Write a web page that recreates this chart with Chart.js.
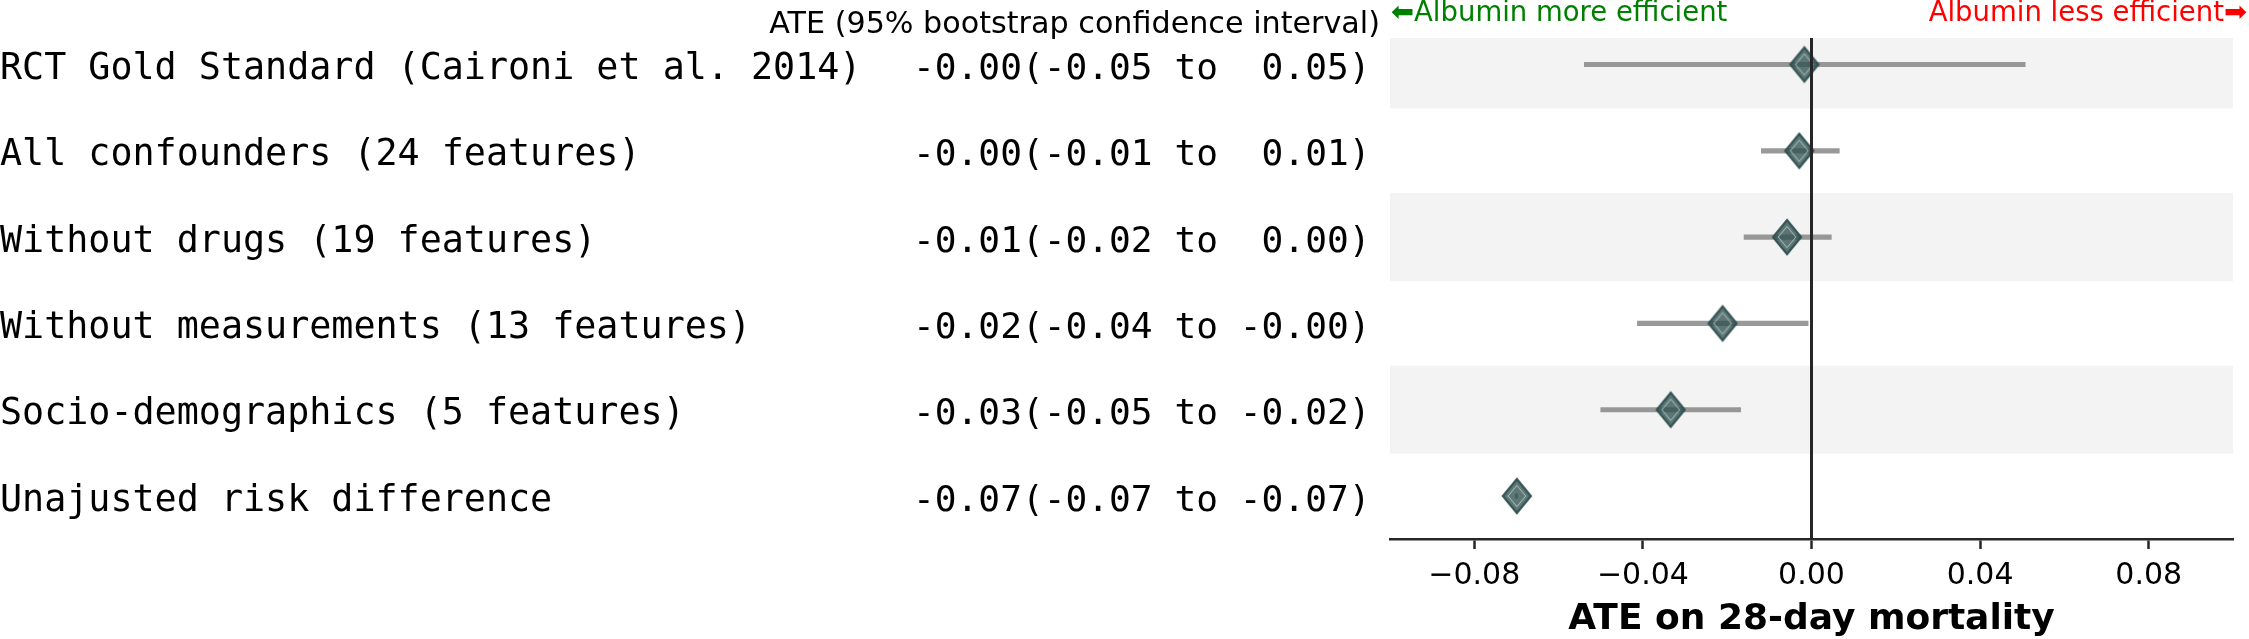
<!DOCTYPE html>
<html><head><meta charset="utf-8">
<script src="https://cdn.jsdelivr.net/npm/chart.js@4/dist/chart.umd.min.js"></script>
<style>html,body{margin:0;padding:0;background:#fff;overflow:hidden}</style>
</head><body>
<canvas id="c" width="2249" height="639" style="display:block;width:2249px;height:639px"></canvas>
<script>
// ---- data ----
const categories = [
  'RCT Gold Standard (Caironi et al. 2014)',
  'All confounders (24 features)',
  'Without drugs (19 features)',
  'Without measurements (13 features)',
  'Socio-demographics (5 features)',
  'Unajusted risk difference'
];
const ciText = [
  '-0.00(-0.05 to  0.05)',
  '-0.00(-0.01 to  0.01)',
  '-0.01(-0.02 to  0.00)',
  '-0.02(-0.04 to -0.00)',
  '-0.03(-0.05 to -0.02)',
  '-0.07(-0.07 to -0.07)'
];
const ate    = [-0.0017, -0.0029, -0.0058, -0.0211, -0.0334, -0.0699];
const ciLow  = [-0.0539, -0.0119, -0.0160, -0.0413, -0.0500, -0.0703];
const ciHigh = [ 0.0507,  0.0066,  0.0047, -0.0008, -0.0168, -0.0697];
const xTicks = [-0.08, -0.04, 0, 0.04, 0.08];
const headerText = 'ATE (95% bootstrap confidence interval)';
const leftNote = '\u2B05Albumin more efficient';
const rightNote = 'Albumin less efficient\u27A1';
const xTitle = 'ATE on 28-day mortality';

// ---- marker ----
function makeDiamond(){
  const w = 34, h = 40, cx = 17, cy = 20, hw = 14, hh = 17;
  const c = document.createElement('canvas'); c.width = w; c.height = h;
  const g = c.getContext('2d');
  g.beginPath(); g.moveTo(cx, cy-hh); g.lineTo(cx+hw, cy); g.lineTo(cx, cy+hh); g.lineTo(cx-hw, cy); g.closePath();
  g.fillStyle = 'rgba(47,79,79,0.78)'; g.fill();
  g.lineWidth = 2.2; g.lineJoin = 'miter'; g.strokeStyle = 'rgba(47,79,79,0.95)'; g.stroke();
  const iw = hw-5.2, ih = hh-6.4;
  g.beginPath(); g.moveTo(cx, cy-ih); g.lineTo(cx+iw, cy); g.lineTo(cx, cy+ih); g.lineTo(cx-iw, cy); g.closePath();
  g.lineWidth = 1; g.strokeStyle = 'rgba(215,230,230,0.7)'; g.stroke();
  return c;
}

const fmt = v => (v < -1e-9 ? '\u2212' : '') + Math.abs(v).toFixed(2);

const decor = {
  id: 'decor',
  beforeDatasetsDraw(chart){
    const {ctx, chartArea: a, scales: {y}} = chart;
    ctx.save();
    ctx.fillStyle = '#f3f3f3';
    categories.forEach((c, i) => {
      if (i % 2) return;
      let y1 = y.getPixelForValue(i - 0.51), y2 = y.getPixelForValue(i + 0.51);
      y1 = Math.max(y1, a.top); y2 = Math.min(y2, a.bottom);
      ctx.fillRect(a.left, y1, a.right - a.left, y2 - y1);
    });
    ctx.restore();
  },
  afterDatasetsDraw(chart){
    const {ctx, chartArea: a, scales: {x}} = chart;
    const x0 = x.getPixelForValue(0);
    ctx.save();
    ctx.strokeStyle = '#262626'; ctx.lineWidth = 3;
    ctx.beginPath(); ctx.moveTo(x0, a.top); ctx.lineTo(x0, a.bottom); ctx.stroke();
    ctx.restore();
  },
  afterDraw(chart){
    const {ctx, scales: {y}} = chart;
    ctx.save();
    ctx.fillStyle = '#000';
    ctx.textBaseline = 'alphabetic';
    ctx.textAlign = 'left';
    categories.forEach((c, i) => {
      const py = y.getPixelForValue(i) + 14.5;
      ctx.font = '36.7px "DejaVu Sans Mono"';
      ctx.fillText(c, 0, py);
      ctx.font = '36.2px "DejaVu Sans Mono"';
      ctx.fillText(ciText[i], 913, py);
    });
    ctx.font = '30.2px "DejaVu Sans"';
    ctx.textAlign = 'right';
    ctx.fillText(headerText, 1380, 33);
    ctx.font = '27.5px "DejaVu Sans"';
    ctx.fillStyle = '#008000'; ctx.textAlign = 'left';
    ctx.fillText(leftNote, 1391, 21);
    ctx.fillStyle = '#ff0000'; ctx.textAlign = 'right';
    ctx.fillText(rightNote, 2247, 21);
    ctx.restore();
  }
};

new Chart(document.getElementById('c'), {
  data: {
    datasets: [
      {
        type: 'scatter',
        data: ate.map((v, i) => ({x: v, y: i})),
        pointStyle: makeDiamond(),
        pointRadius: 15,
        order: 0
      },
      {
        type: 'bar',
        indexAxis: 'y',
        data: categories.map((c, i) => ({y: i, x: [ciLow[i], ciHigh[i]]})),
        backgroundColor: 'rgba(128,128,128,0.8)',
        borderWidth: 0,
        barThickness: 4.5,
        grouped: false,
        order: 1
      }
    ]
  },
  options: {
    responsive: false,
    devicePixelRatio: 1,
    animation: false,
    events: [],
    layout: {padding: {left: 1390, top: 38, right: 0, bottom: 0}},
    plugins: {legend: {display: false}, tooltip: {enabled: false}},
    scales: {
      x: {
        type: 'linear', position: 'bottom', min: -0.1, max: 0.1, offset: false,
        afterBuildTicks: s => { s.ticks = xTicks.map(v => ({value: v})); },
        afterFit: s => { s.height = 100; },
        ticks: {font: {family: 'DejaVu Sans', size: 30}, color: '#000', padding: 9, maxRotation: 0, autoSkip: false,
                callback: v => fmt(v)},
        grid: {display: true, offset: false, drawOnChartArea: false, drawTicks: true, tickLength: 10, tickWidth: 2.5, tickColor: '#262626'},
        border: {display: true, color: '#262626', width: 2.5},
        title: {display: true, text: xTitle, color: '#000', font: {family: 'DejaVu Sans', size: 36, weight: 'bold', lineHeight: 1.05}, padding: {top: 0, bottom: 0}}
      },
      y: {type: 'linear', min: -0.307, max: 5.498, reverse: true, offset: false, display: false, grid: {offset: false}}
    }
  },
  plugins: [decor]
});
</script>
</body></html>
